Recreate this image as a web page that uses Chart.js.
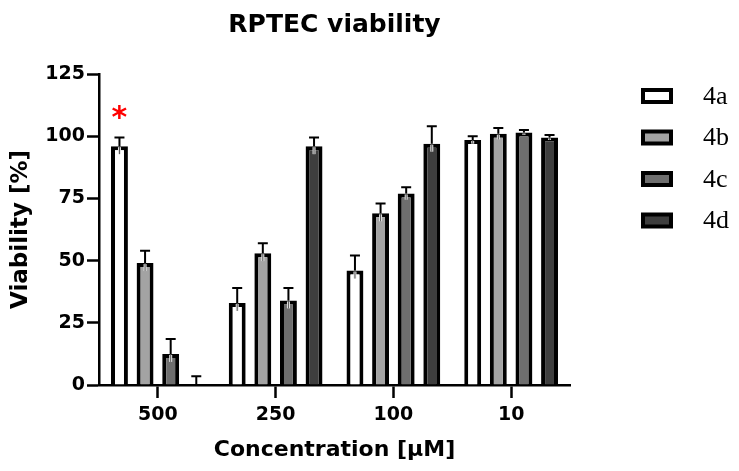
<!DOCTYPE html>
<html>
<head>
<meta charset="utf-8">
<script src="https://cdn.jsdelivr.net/npm/chart.js@4"></script>
<style>
  html, body { margin: 0; padding: 0; background: #fff; }
  #wrap { width: 739px; height: 471px; }
</style>
</head>
<body>
<div id="wrap"><canvas id="c" width="739" height="471"></canvas></div>
<script>
// concentrations (µM)
const categories = ["500", "250", "100", "10"];
const seriesNames = ["4a", "4b", "4c", "4d"];
const seriesColors = ["#ffffff", "#a3a3a3", "#6e6e6e", "#3e3e3e"];

// mean viability [%]
const values4a = [96, 33, 46, 98.5];
const values4b = [49, 53, 69, 101];
const values4c = [12.5, 34, 77, 101.5];
const values4d = [0, 96, 97, 99.5];

// upper error (SD)
const err4a = [3.5, 6, 6, 1.5];
const err4b = [5, 4, 4, 2.3];
const err4c = [6, 5, 2.5, 1];
const err4d = [3.5, 3.5, 7, 1];

const yTicks = [0, 25, 50, 75, 100, 125];

// significance mark: series 0, category 0
const starMarks = [{ series: 0, index: 0, text: "*" }];

const allValues = [values4a, values4b, values4c, values4d];
const allErrors = [err4a, err4b, err4c, err4d];

const sansFont = "'DejaVu Sans', Arial, sans-serif";

// error bars: cap above, faint lower half through the bar top
const errorBars = {
  id: "errorBars",
  afterDatasetsDraw(chart) {
    const ctx = chart.ctx;
    const y = chart.scales.y;
    const base = y.getPixelForValue(0);
    ctx.save();
    chart.data.datasets.forEach((ds, di) => {
      const meta = chart.getDatasetMeta(di);
      meta.data.forEach((bar, i) => {
        const v = ds.data[i];
        const e = ds.errors[i];
        const yTop = y.getPixelForValue(v + e);
        const yBar = y.getPixelForValue(v);
        const yLow = Math.min(base - 1, yBar + 8, y.getPixelForValue(v - e));
        if (yLow > yBar + 1) {
          ctx.strokeStyle = "#e6e6e6";
          ctx.lineWidth = 3;
          ctx.beginPath();
          ctx.moveTo(bar.x, yBar + 1);
          ctx.lineTo(bar.x, yLow);
          ctx.stroke();
          ctx.strokeStyle = "#555";
          ctx.lineWidth = 1;
          ctx.beginPath();
          ctx.moveTo(bar.x, yBar);
          ctx.lineTo(bar.x, yLow);
          ctx.stroke();
        }
        ctx.strokeStyle = "#000";
        ctx.lineWidth = 2;
        ctx.beginPath();
        ctx.moveTo(bar.x, yBar);
        ctx.lineTo(bar.x, yTop);
        ctx.moveTo(bar.x - 5, yTop);
        ctx.lineTo(bar.x + 5, yTop);
        ctx.stroke();
      });
    });
    // asterisks
    ctx.fillStyle = "#ff0000";
    ctx.font = "bold 30px " + sansFont;
    ctx.textAlign = "center";
    ctx.textBaseline = "middle";
    starMarks.forEach((m) => {
      const bar = chart.getDatasetMeta(m.series).data[m.index];
      const ds = chart.data.datasets[m.series];
      const yTop = y.getPixelForValue(ds.data[m.index] + ds.errors[m.index]);
      ctx.fillText(m.text, bar.x, yTop - 18);
    });
    ctx.restore();
  },
};

// title centred over the plot area
const titleOverPlot = {
  id: "titleOverPlot",
  afterLayout(chart) {
    if (chart.titleBlock) {
      chart.titleBlock.left = chart.chartArea.left;
      chart.titleBlock.right = chart.chartArea.right;
    }
  },
};

// legend on the right
const sideLegend = {
  id: "sideLegend",
  afterDraw(chart) {
    const ctx = chart.ctx;
    ctx.save();
    chart.data.datasets.forEach((ds, i) => {
      const cy = 96 + i * 41.5;
      ctx.fillStyle = "#000";
      ctx.fillRect(641, cy - 8, 32, 16);
      ctx.fillStyle = ds.backgroundColor;
      ctx.fillRect(645, cy - 4, 24, 8);
      ctx.fillStyle = "#000";
      ctx.font = "26px 'Liberation Serif', 'DejaVu Serif', serif";
      ctx.textAlign = "left";
      ctx.textBaseline = "middle";
      ctx.fillText(ds.label, 703, cy + 1);
    });
    ctx.restore();
  },
};

const datasets = seriesNames.map((name, i) => ({
  label: name,
  data: allValues[i],
  errors: allErrors[i],
  backgroundColor: seriesColors[i],
  borderColor: "#000",
  borderWidth: 4,
  borderSkipped: "start",
  categoryPercentage: 0.87,
  barPercentage: 0.66,
}));

new Chart(document.getElementById("c"), {
  type: "bar",
  data: { labels: categories, datasets },
  options: {
    responsive: false,
    animation: false,
    layout: { padding: { left: 0, right: 169, top: 0, bottom: 0 } },
    plugins: {
      legend: { display: false },
      tooltip: { enabled: false },
      title: {
        display: true,
        text: "RPTEC viability",
        color: "#000",
        font: { family: sansFont, size: 25, weight: "bold" },
        padding: { top: 10, bottom: 34 },
      },
    },
    scales: {
      x: {
        grid: {
          drawOnChartArea: false,
          drawTicks: true,
          tickLength: 13,
          tickWidth: 2.5,
          tickColor: "#000",
          offset: false,
        },
        border: { color: "#000", width: 2.5 },
        ticks: {
          color: "#000",
          padding: 6,
          font: { family: sansFont, size: 19, weight: "bold" },
        },
        title: {
          display: true,
          text: "Concentration [µM]",
          color: "#000",
          font: { family: sansFont, size: 22, weight: "bold" },
          padding: { top: 0, bottom: 8 },
        },
        afterFit(scale) { scale.height = 86; },
      },
      y: {
        min: 0,
        max: 125,
        afterBuildTicks(scale) { scale.ticks = yTicks.map((v) => ({ value: v })); },
        grid: {
          drawOnChartArea: false,
          drawTicks: true,
          tickLength: 12,
          tickWidth: 2.5,
          tickColor: "#000",
        },
        border: { color: "#000", width: 2.5 },
        ticks: {
          color: "#000",
          padding: 2,
          font: { family: sansFont, size: 19, weight: "bold" },
        },
        title: {
          display: true,
          text: "Viability [%]",
          color: "#000",
          font: { family: sansFont, size: 23, weight: "bold" },
          padding: { top: 7, bottom: 0 },
        },
        afterFit(scale) { scale.width = 99; },
      },
    },
  },
  plugins: [titleOverPlot, errorBars, sideLegend],
});
</script>
</body>
</html>
